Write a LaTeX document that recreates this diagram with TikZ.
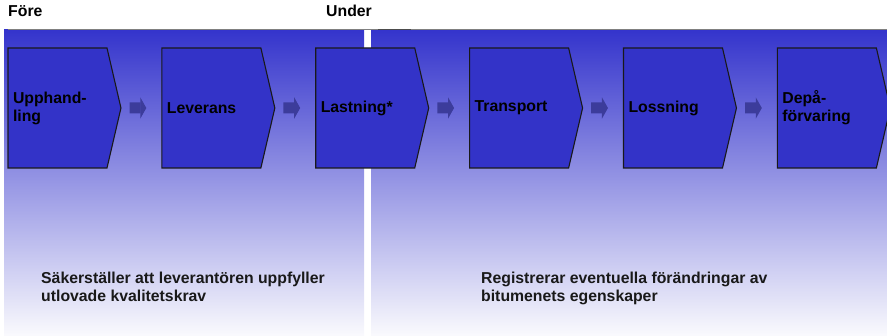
\documentclass[tikz,border=0pt]{standalone}
\usepackage{fontspec}
\setmainfont{Liberation Sans}
\usetikzlibrary{arrows.meta,positioning,shapes.symbols}
\definecolor{stepblue}{RGB}{51,51,200}
\definecolor{panelblue}{RGB}{52,52,204}
\definecolor{panelfade}{RGB}{250,250,253}
\definecolor{flowarrow}{RGB}{60,60,155}

\begin{document}
\begin{tikzpicture}[
    x=1pt,y=-1pt,
    node distance=39.8pt,
    font=\fontsize{15.8}{18}\selectfont\bfseries,
    stage/.style={signal,signal to=east,signal pointer angle=153.8,
                  draw=black!90,line width=1.1pt,fill=stepblue,
                  text width=89pt,inner xsep=5pt,inner ysep=0pt,
                  minimum height=120pt,align=left},
    flow/.style={line width=11pt,flowarrow,-{Triangle[length=6pt,width=21pt]},
                 shorten <=8pt,shorten >=15pt},
    panel/.style={top color=panelblue,bottom color=panelfade},
    phase/.style={anchor=base west,inner sep=0pt},
    note/.style={anchor=base west,inner sep=0pt,align=left,text=black!90}
  ]
    \useasboundingbox (0,0) rectangle (887,336);
    % bakgrund
    \shade[panel] (4,30) rectangle (364,336);
    \shade[panel] (371,30) rectangle (887,336);
    \draw[gray,line width=1pt] (8,29.5) -- (887,29.5);
    \draw[black!70,line width=1.6pt] (378,29.5) -- (411,29.5);
    \node[phase] (fore) at (8,17) {Före};
    \node[phase] (under) at (326,17) {Under};
    % processteg
    \node[stage] (upph) at (57.5,108) {Upphand-\\ling};
    \node[stage,right=of upph] (lev) {Leverans};
    \node[stage,right=of lev] (last) {Lastning*};
    \node[stage,right=of last] (trans) {Transport};
    \node[stage,right=of trans] (loss) {Lossning};
    \node[stage,right=of loss] (depa) {Depå-\\förvaring};
    \draw[flow] (upph) -- (lev);
    \draw[flow] (lev) -- (last);
    \draw[flow] (last) -- (trans);
    \draw[flow] (trans) -- (loss);
    \draw[flow] (loss) -- (depa);
    \node[note] (kravtext) at (41,302) {Säkerställer att leverantören uppfyller\\utlovade kvalitetskrav};
    \node[note] (bittext) at (481,302) {Registrerar eventuella förändringar av\\bitumenets egenskaper};
  \end{tikzpicture}
\end{document}
